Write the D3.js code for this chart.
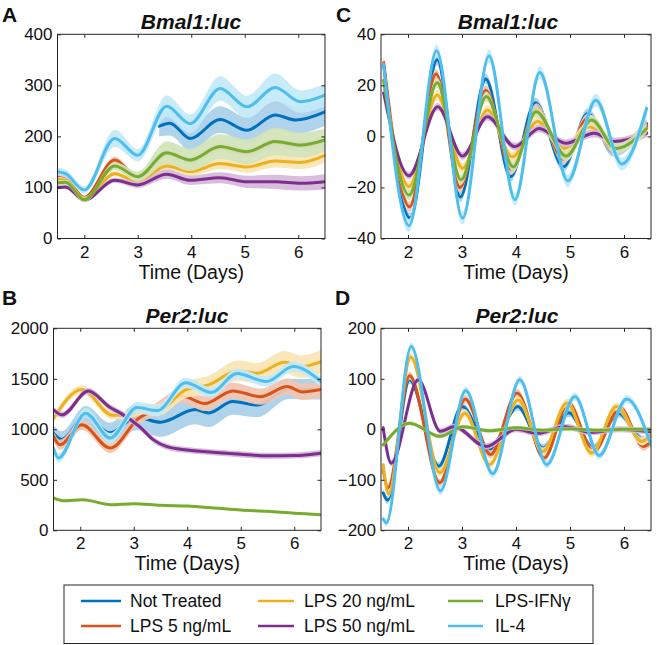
<!DOCTYPE html>
<html><head><meta charset="utf-8">
<script src="https://cdn.jsdelivr.net/npm/d3@7"></script>
<style>
body{margin:0;background:#fff}
svg{display:block}
text{font-family:"Liberation Sans",Arial,Helvetica,sans-serif;fill:#111}
</style>
</head><body>
<svg id="chart" width="666" height="645"></svg>
<script>
// ---------- categories ----------
const seriesNames = ["Not Treated","LPS 5 ng/mL","LPS 20 ng/mL","LPS 50 ng/mL","LPS-IFNγ","IL-4"];
const seriesColors = ["#0072BD","#D95319","#EDB120","#7E2F8E","#77AC30","#4DBEEE"];
const xTicks = [2,3,4,5,6];
const xDomain = [1.5,6.5];

// ---------- Panel A : Bmal1:luc (raw) ----------
const aTime = [1.5,1.65,2.0,2.57,3.0,3.54,3.98,4.54,5.04,5.57,6.04,6.5];
const aNotTreatedTime = [3.4,3.6,3.98,4.54,5.04,5.57,5.95,6.5];
const aNotTreated    = [220,226,196,233,212,242,232,248];
const aNotTreatedErr = [20,24,24,26,25,28,27,27];
const aLPS5     = [124,121,80,154,119,166,152,178,168,188,181,191];
const aLPS5Err  = [4,4,4,6,6,8,8,9,9,10,10,10];
const aLPS20    = [116,114,78,127,111,142,131,147,140,152,149,163];
const aLPS20Err = [4,4,4,5,6,9,9,11,11,13,13,14];
const aLPS50    = [100,101,75,114,105,126,114,119,111,111,108,111];
const aLPS50Err = [4,4,4,5,6,9,9,11,12,14,14,15];
const aIFN      = [109,110,76,142,121,168,154,180,170,190,183,193];
const aIFNErr   = [5,5,5,8,10,22,22,24,24,27,24,22];
const aIL4      = [131,127,95,196,163,259,225,294,258,296,268,281];
const aIL4Err   = [8,8,7,17,12,21,18,24,22,27,22,22];
const aYTicks = [0,100,200,300,400];

// ---------- Panel B : Per2:luc (raw) ----------
const bNotTreatedTime = [1.5,1.65,2.1,2.55,3.05,3.5,4.15,4.4,4.85,5.31,5.9,6.5];
const bNotTreated     = [960,900,1130,965,1120,1070,1195,1162,1275,1240,1400,1395];
const bNotTreatedErr  = [80,80,100,100,130,145,145,140,130,120,100,100];
const bLPS5Time = [1.5,1.62,2.03,2.56,3.1,3.35,3.9,4.33,4.85,5.37,5.87,6.15,6.5];
const bLPS5     = [929,847,1044,814,1112,1180,1330,1255,1380,1323,1423,1370,1395];
const bLPS5Err  = [50,50,50,50,55,60,70,75,80,80,80,80,80];
const bLPS20Time = [1.5,2.03,2.6,2.9,3.15,3.45,3.97,4.4,4.95,5.3,5.82,6.12,6.5];
const bLPS20     = [1105,1395,1140,1140,1200,1190,1390,1440,1580,1555,1665,1620,1670];
const bLPS20Err  = [40,40,40,40,50,60,80,90,100,100,110,110,115];
const bLPS50Time = [1.5,1.66,2.15,2.56,2.75,3.1,3.37,3.62,4.0,4.6,5.0,5.5,6.0,6.5];
const bLPS50     = [1193,1143,1378,1215,1160,1030,895,828,795,768,752,737,740,764];
const bLPS50Err  = [30,30,30,30,30,30,30,30,30,30,30,30,30,30];
const bIFNTime = [1.5,1.69,2.05,2.56,3.0,3.5,4.0,4.5,5.0,5.5,6.0,6.5];
const bIFN     = [320,293,303,254,264,247,240,221,200,188,168,155];
const bIFNErr  = [10,10,10,10,10,10,10,10,10,10,10,10];
const bIL4Time = [1.5,1.59,2.1,2.56,3.06,3.44,3.97,4.45,4.93,5.48,5.98,6.5];
const bIL4     = [814,715,1160,913,1215,1185,1460,1365,1552,1473,1621,1473];
const bIL4Err  = [45,45,50,50,55,55,50,50,50,50,50,50];
const bYTicks = [0,500,1000,1500,2000];

// ---------- Panel C : Bmal1:luc (detrended) ----------
const cNotTreatedTime = [1.55,2.04,2.54,2.97,3.44,3.9,4.36,4.88,5.33,5.8,6.42];
const cNotTreated     = [28,-32,30,-23.7,22.5,-15.8,13.2,-11.9,9,-6,5];
const cLPS5Time = [1.55,2.03,2.52,2.96,3.44,3.92,4.38,4.88,5.33,5.83,6.42];
const cLPS5     = [29,-27.6,24.4,-20,18,-13,11,-9,7,-5,4];
const cLPS20Time = [1.55,2.02,2.54,3.01,3.47,3.93,4.4,4.9,5.35,5.85,6.42];
const cLPS20     = [22,-19.7,16.2,-12.5,10.3,-8,5.8,-4.7,3.8,-2.7,1.8];
const cLPS50Time = [1.55,2.02,2.55,3.01,3.47,3.98,4.43,4.92,5.45,5.82,6.42];
const cLPS50     = [17,-15.4,11.6,-7.7,7.7,-4,3.1,-2.7,1.2,-2,1.2];
const cIFNTime = [1.55,2.02,2.54,2.98,3.45,3.95,4.37,4.93,5.4,5.85,6.42];
const cIFN     = [22,-23,21,-17,15.6,-11.9,9.7,-7.7,6.4,-4.7,3.1];
const cIL4Time = [1.55,2.02,2.53,3.01,3.5,3.98,4.44,4.96,5.48,5.96,6.42];
const cIL4     = [28,-35,33.6,-32,31.5,-24.7,25,-17.4,14.2,-10.8,11];
const cErr = [2,2,2,1.5,2,2.5];
const cYTicks = [-40,-20,0,20,40];

// ---------- Panel D : Per2:luc (detrended) ----------
const dNotTreatedTime = [1.54,1.62,2.03,2.57,3.0,3.51,4.03,4.5,4.98,5.43,5.9,6.36,6.5];
const dNotTreated     = [-126,-140,98,-73,45,-40,45,-37,33,-37,32,-21,-15];
const dLPS5Time = [1.54,1.63,2.03,2.59,3.06,3.53,4.02,4.52,4.97,5.43,5.93,6.36,6.5];
const dLPS5     = [-80,-116,106,-106,60,-50,72,-57,52,-44,42,-34,-25];
const dLPS20Time = [1.54,1.64,2.05,2.59,3.05,3.51,4.04,4.5,4.94,5.4,5.86,6.33,6.5];
const dLPS20     = [-70,-128,143,-86,32,-70,58,-44,52,-47,45,-24,-11];
const dLPS50Time = [1.54,1.69,2.19,2.6,2.85,3.45,4.0,4.4,4.9,5.4,5.9,6.5];
const dLPS50     = [3,-67,98,-4,5,-34,0,-8,5,-6,0,-5];
const dIFNTime = [1.54,2.03,2.59,3.02,3.5,4.0,4.5,5.0,5.5,6.0,6.5];
const dIFN     = [-31,12,-14,5,-3,3,-2,1,-2,0,0];
const dIL4Time = [1.54,1.6,2.06,2.6,3.07,3.57,4.07,4.57,5.09,5.54,6.05,6.5];
const dIL4     = [-178,-185,164,-122,77,-88,98,-70,65,-52,60,-31];
const dErr = [8,8,8,6,4,8];
const dYTicks = [-200,-100,0,100,200];

// ---------- build panel specs ----------
const panels = [
  {label:"A", title:"Bmal1:luc", box:[57.5,325,34.3,238.5], titleX:191, yDomain:[0,400], yTicks:aYTicks,
   series:[
     {t:aNotTreatedTime, v:aNotTreated, e:aNotTreatedErr},
     {t:aTime, v:aLPS5, e:aLPS5Err},
     {t:aTime, v:aLPS20, e:aLPS20Err},
     {t:aTime, v:aLPS50, e:aLPS50Err},
     {t:aTime, v:aIFN, e:aIFNErr},
     {t:aTime, v:aIL4, e:aIL4Err}]},
  {label:"C", title:"Bmal1:luc", box:[381,651,34.3,238.5], titleX:508, yDomain:[-40,40], yTicks:cYTicks,
   series:[
     {t:cNotTreatedTime, v:cNotTreated, e:cErr[0]},
     {t:cLPS5Time, v:cLPS5, e:cErr[1]},
     {t:cLPS20Time, v:cLPS20, e:cErr[2]},
     {t:cLPS50Time, v:cLPS50, e:cErr[3]},
     {t:cIFNTime, v:cIFN, e:cErr[4]},
     {t:cIL4Time, v:cIL4, e:cErr[5]}]},
  {label:"B", title:"Per2:luc", box:[53.5,321,328.3,530.3], titleX:187, yDomain:[0,2000], yTicks:bYTicks,
   series:[
     {t:bNotTreatedTime, v:bNotTreated, e:bNotTreatedErr},
     {t:bLPS5Time, v:bLPS5, e:bLPS5Err},
     {t:bLPS20Time, v:bLPS20, e:bLPS20Err},
     {t:bLPS50Time, v:bLPS50, e:bLPS50Err},
     {t:bIFNTime, v:bIFN, e:bIFNErr},
     {t:bIL4Time, v:bIL4, e:bIL4Err}]},
  {label:"D", title:"Per2:luc", box:[381,651,328.3,530.3], titleX:517, yDomain:[-200,200], yTicks:dYTicks,
   series:[
     {t:dNotTreatedTime, v:dNotTreated, e:dErr[0]},
     {t:dLPS5Time, v:dLPS5, e:dErr[1]},
     {t:dLPS20Time, v:dLPS20, e:dErr[2]},
     {t:dLPS50Time, v:dLPS50, e:dErr[3]},
     {t:dIFNTime, v:dIFN, e:dErr[4]},
     {t:dIL4Time, v:dIL4, e:dErr[5]}]}
];
const labelPos = {A:[2,22], C:[336,22], B:[2,305], D:[335,305]};

const svg = d3.select("#chart");
const axisColor = "#262626";
const bandColor = c => d3.interpolateRgb(c, "#ffffff")(0.66);

panels.forEach((p) => {
  const [x0,x1,y0,y1] = p.box;
  const x = d3.scaleLinear().domain(xDomain).range([x0,x1]);
  const y = d3.scaleLinear().domain(p.yDomain).range([y1,y0]);
  const g = svg.append("g");
  const clipId = "clip"+p.label;
  svg.append("clipPath").attr("id",clipId).append("rect")
    .attr("x",x0).attr("y",y0).attr("width",x1-x0).attr("height",y1-y0);
  const plot = g.append("g").attr("clip-path",`url(#${clipId})`);

  p.series.forEach((s, si) => {
    const data = s.t.map((t,j)=>({t, v:s.v[j], e: Array.isArray(s.e)? s.e[j] : s.e}));
    const area = d3.area().x(d=>x(d.t)).y0(d=>y(d.v-d.e)).y1(d=>y(d.v+d.e)).curve(d3.curveMonotoneX);
    const line = d3.line().x(d=>x(d.t)).y(d=>y(d.v)).curve(d3.curveMonotoneX);
    plot.append("path").attr("d",area(data)).attr("fill",bandColor(seriesColors[si])).attr("fill-opacity",0.92).attr("stroke","none");
    plot.append("path").attr("d",line(data)).attr("fill","none").attr("stroke",seriesColors[si])
      .attr("stroke-width",3).attr("stroke-linejoin","round").attr("stroke-linecap","round");
  });

  const fs = "17px";
  const ax = g.append("g").attr("transform",`translate(0,${y1})`)
    .call(d3.axisBottom(x).tickValues(xTicks).tickSizeInner(-3.5).tickSizeOuter(0).tickPadding(7).tickFormat(d3.format("d")));
  const axT = g.append("g").attr("transform",`translate(0,${y0})`)
    .call(d3.axisTop(x).tickValues(xTicks).tickSizeInner(-3.5).tickSizeOuter(0).tickFormat(""));
  const ay = g.append("g").attr("transform",`translate(${x0},0)`)
    .call(d3.axisLeft(y).tickValues(p.yTicks).tickSizeInner(-3.5).tickSizeOuter(0).tickPadding(5).tickFormat(d3.format("d")));
  const ayR = g.append("g").attr("transform",`translate(${x1},0)`)
    .call(d3.axisRight(y).tickValues(p.yTicks).tickSizeInner(-3.5).tickSizeOuter(0).tickFormat(""));
  [ax,axT,ay,ayR].forEach(a=>{
    a.select(".domain").remove();
    a.attr("font-family",null).attr("font-size",null);
    a.selectAll("line").attr("stroke",axisColor);
    a.selectAll("text").style("font-size",fs).attr("fill","#111");
  });
  g.append("rect").attr("x",x0).attr("y",y0).attr("width",x1-x0).attr("height",y1-y0)
    .attr("fill","none").attr("stroke",axisColor).attr("stroke-width",1);

  g.append("text").attr("x",p.titleX).attr("y",y0-5.5).attr("text-anchor","middle")
    .style("font-size","21px").style("font-weight","bold").style("font-style","italic").text(p.title);
  g.append("text").attr("x",(x0+x1)/2).attr("y",y1+40).attr("text-anchor","middle")
    .style("font-size","19.5px").text("Time (Days)");
  const lp = labelPos[p.label];
  g.append("text").attr("x",lp[0]).attr("y",lp[1]).style("font-size","21px").style("font-weight","bold").text(p.label);
});

// ---------- legend ----------
const leg = svg.append("g");
leg.append("rect").attr("x",64).attr("y",585).attr("width",529).attr("height",58.5)
  .attr("fill","#fff").attr("stroke",axisColor).attr("stroke-width",1);
const legCols = [[81,121,130],[258,294,304],[448,483,495]];
const legRows = [601,626];
const legOrder = [[0,0],[1,0],[0,1],[1,1],[0,2],[1,2]]; // [row,col] per series
seriesNames.forEach((name,i)=>{
  const [r,c] = legOrder[i];
  const cy = legRows[r];
  const [lx0,lx1,tx] = legCols[c];
  leg.append("line").attr("x1",lx0).attr("x2",lx1).attr("y1",cy).attr("y2",cy)
    .attr("stroke",seriesColors[i]).attr("stroke-width",2.5);
  leg.append("text").attr("x",tx).attr("y",cy).attr("dy","0.35em").style("font-size","17.5px").text(name);
});
</script>
</body></html>
